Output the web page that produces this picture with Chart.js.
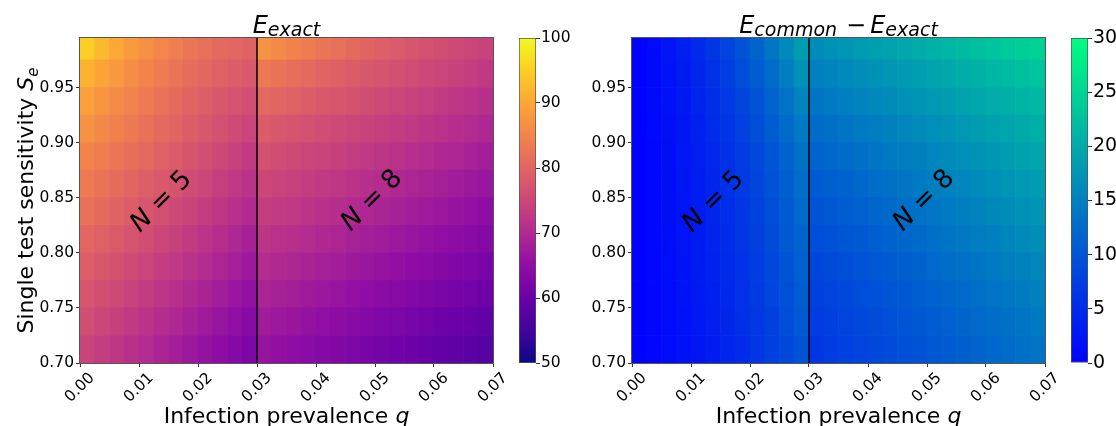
<!DOCTYPE html>
<html><head><meta charset="utf-8">
<script src="https://cdn.jsdelivr.net/npm/chart.js@4.4.1/dist/chart.umd.min.js"></script>
<style>
html,body{margin:0;padding:0;background:#fff;}
#wrap{position:relative;width:1116px;height:426px;overflow:hidden;background:#fff}
canvas{position:absolute;top:0}
</style></head>
<body><div id="wrap">
<canvas id="hmA" width="520" height="426" style="left:0px"></canvas>
<canvas id="cbA" width="100" height="426" style="left:500px"></canvas>
<canvas id="hmB" width="520" height="426" style="left:560px"></canvas>
<canvas id="cbB" width="56" height="426" style="left:1060px"></canvas>
</div>
<script>
// ---------------- data ----------------
const qEdges = [0.0000,0.0025,0.0050,0.0075,0.0100,0.0125,0.0150,0.0175,0.0200,0.0225,0.0250,0.0275,0.0300,
                0.0325,0.0350,0.0375,0.0400,0.0425,0.0450,0.0475,0.0500,0.0525,0.0550,0.0575,0.0600,0.0625,0.0650,0.0675,0.0700];
const seEdges = [0.700,0.725,0.750,0.775,0.800,0.825,0.850,0.875,0.900,0.925,0.950,0.975,0.995];
const qTicks = [0.00,0.01,0.02,0.03,0.04,0.05,0.06,0.07];
const seTicks = [0.70,0.75,0.80,0.85,0.90,0.95];
const boundaryQ = 0.03;
const exactTicks = [50,60,70,80,90,100];
const diffTicks = [0,5,10,15,20,25,30];
const exactLimits = [50,100];
const diffLimits = [0,30];
const poolLabels = ['5','8'];
const poolLabelQ = [0.0135,0.0492];
const poolLabelSe = [0.848,0.849];

// E_exact: rows Se=0.70 (bottom) .. 0.995 (top); 12 cells for N=5 (q<0.03) then 16 cells for N=8
const eExact = [
  [74.5,73.4,72.3,71.2,70.1,69.0,68.0,66.9,65.8,64.7,63.6,62.5, 66.0,65.4,64.9,64.3,63.7,63.2,62.6,62.0,61.5,60.9,60.3,59.8,59.2,58.6,58.1,57.5],
  [76.0,74.9,73.8,72.7,71.6,70.5,69.5,68.4,67.3,66.2,65.1,64.0, 67.5,66.9,66.4,65.8,65.2,64.7,64.1,63.5,63.0,62.4,61.8,61.3,60.7,60.1,59.6,59.0],
  [77.5,76.4,75.3,74.2,73.1,72.0,71.0,69.9,68.8,67.7,66.6,65.5, 69.0,68.4,67.9,67.3,66.7,66.2,65.6,65.0,64.5,63.9,63.3,62.8,62.2,61.6,61.1,60.5],
  [79.0,77.9,76.8,75.7,74.6,73.5,72.5,71.4,70.3,69.2,68.1,67.0, 70.5,69.9,69.4,68.8,68.2,67.7,67.1,66.5,66.0,65.4,64.8,64.3,63.7,63.1,62.6,62.0],
  [80.5,79.4,78.3,77.2,76.1,75.0,74.0,72.9,71.8,70.7,69.6,68.5, 72.0,71.4,70.9,70.3,69.7,69.2,68.6,68.0,67.5,66.9,66.3,65.8,65.2,64.6,64.1,63.5],
  [82.0,80.9,79.8,78.7,77.6,76.5,75.5,74.4,73.3,72.2,71.1,70.0, 73.5,72.9,72.4,71.8,71.2,70.7,70.1,69.5,69.0,68.4,67.8,67.3,66.7,66.1,65.6,65.0],
  [83.5,82.4,81.3,80.2,79.1,78.0,77.0,75.9,74.8,73.7,72.6,71.5, 75.0,74.4,73.9,73.3,72.7,72.2,71.6,71.0,70.5,69.9,69.3,68.8,68.2,67.6,67.1,66.5],
  [85.0,83.9,82.8,81.7,80.6,79.5,78.5,77.4,76.3,75.2,74.1,73.0, 76.7,76.1,75.5,74.9,74.4,73.8,73.2,72.6,72.1,71.5,70.9,70.3,69.7,69.2,68.6,68.0],
  [87.0,85.7,84.5,83.3,82.1,81.0,79.9,78.8,77.7,76.7,75.7,74.7, 78.5,77.9,77.3,76.7,76.1,75.5,74.9,74.3,73.7,73.1,72.5,71.9,71.3,70.7,70.1,69.5],
  [89.0,87.5,86.1,84.8,83.5,82.3,81.1,80.0,78.9,77.9,77.1,76.3, 80.7,80.1,79.4,78.8,78.1,77.5,76.8,76.2,75.5,74.9,74.2,73.6,72.9,72.3,71.6,71.0],
  [91.5,89.6,87.9,86.4,85.0,83.7,82.5,81.4,80.4,79.5,78.7,78.0, 83.3,82.4,81.6,80.8,80.0,79.3,78.6,77.9,77.2,76.5,75.9,75.2,74.6,74.0,73.3,72.7],
  [95.0,92.3,90.1,88.3,86.7,85.3,84.0,82.8,81.8,80.9,80.3,79.7, 87.0,85.8,84.7,83.7,82.7,81.8,80.9,80.0,79.2,78.4,77.6,76.9,76.2,75.5,74.9,74.3]
];
// E_common - E_exact, same grid
const eDiff = [
  [0.3,0.8,1.3,1.9,2.7,3.4,4.3,5.2,6.3,7.4,8.5,9.8,        6.5,7.0,7.4,7.9,8.4,8.8,9.3,9.8,10.2,10.7,11.2,11.6,12.1,12.6,13.0,13.5],
  [0.3,0.8,1.4,2.0,2.8,3.6,4.5,5.5,6.6,7.7,9.0,10.3,       7.0,7.5,8.0,8.4,8.9,9.4,9.9,10.4,10.8,11.3,11.8,12.3,12.8,13.2,13.7,14.2],
  [0.3,0.8,1.4,2.1,2.9,3.8,4.7,5.8,6.9,8.1,9.4,10.8,       7.5,8.0,8.5,9.0,9.5,10.0,10.5,11.0,11.5,12.0,12.5,13.0,13.5,14.0,14.5,15.0],
  [0.3,0.8,1.5,2.2,3.0,3.9,4.9,6.0,7.2,8.5,9.8,11.3,       8.2,8.7,9.2,9.7,10.2,10.7,11.2,11.7,12.3,12.8,13.3,13.8,14.3,14.8,15.3,15.8],
  [0.3,0.9,1.5,2.3,3.1,4.1,5.1,6.3,7.5,8.9,10.3,11.8,      9.0,9.5,10.0,10.5,11.0,11.5,12.0,12.5,13.1,13.6,14.1,14.6,15.1,15.6,16.1,16.6],
  [0.3,0.9,1.6,2.4,3.3,4.3,5.4,6.5,7.8,9.2,10.7,12.3,      9.8,10.3,10.8,11.3,11.9,12.4,12.9,13.4,13.9,14.4,14.9,15.4,16.0,16.5,17.0,17.5],
  [0.3,0.9,1.6,2.5,3.4,4.4,5.6,6.8,8.2,9.6,11.1,12.8,      10.7,11.2,11.7,12.2,12.8,13.3,13.8,14.3,14.8,15.3,15.8,16.3,16.9,17.4,17.9,18.4],
  [0.3,0.9,1.7,2.6,3.5,4.6,5.8,7.1,8.5,10.0,11.7,13.4,     11.6,12.1,12.6,13.2,13.7,14.2,14.7,15.2,15.8,16.3,16.8,17.3,17.8,18.4,18.9,19.4],
  [0.3,1.0,1.8,2.7,3.8,5.0,6.2,7.6,9.2,10.8,12.5,14.4,     12.6,13.1,13.7,14.2,14.7,15.2,15.8,16.3,16.8,17.3,17.9,18.4,18.9,19.4,20.0,20.5],
  [0.3,1.1,1.9,2.9,4.1,5.3,6.7,8.2,9.8,11.6,13.5,15.5,     13.8,14.3,14.9,15.4,15.9,16.4,17.0,17.5,18.0,18.5,19.1,19.6,20.1,20.6,21.2,21.7],
  [0.3,1.1,2.1,3.2,4.4,5.8,7.3,9.0,10.8,12.7,14.8,17.0,    15.0,15.5,16.1,16.6,17.1,17.7,18.2,18.7,19.3,19.8,20.3,20.9,21.4,21.9,22.5,23.0],
  [0.3,1.2,2.3,3.5,4.8,6.3,8.0,9.8,11.7,13.8,16.1,18.5,    16.5,17.0,17.6,18.1,18.7,19.2,19.8,20.3,20.9,21.4,22.0,22.5,23.1,23.6,24.2,24.7]
];

// ---------------- styling ----------------
const FONT = "'DejaVu Sans'";
Chart.defaults.font.family = FONT;
Chart.defaults.color = '#000';

const PLASMA = ['#0d0887','#41049d','#6a00a8','#8f0da4','#b12a90','#cc4778','#e16462','#f2844b','#fca636','#fcce25','#f0f921'];
function hex(h){return [1,3,5].map(i=>parseInt(h.substr(i,2),16));}
function clamp(t){return Math.min(1,Math.max(0,t));}
function plasma(t){
  t=clamp(t); const s=t*10; const i=Math.min(9,Math.floor(s)); const f=s-i;
  const a=hex(PLASMA[i]), b=hex(PLASMA[i+1]);
  return 'rgb('+a.map((v,k)=>Math.round(v+(b[k]-v)*f)).join(',')+')';
}
function winter(t){ t=clamp(t); return 'rgb(0,'+Math.round(255*t)+','+Math.round(255*(1-0.5*t))+')'; }

function runsWidth(ctx, runs){ let w=0; for(const r of runs){ if(r.gap){w+=r.gap;continue;} ctx.font=r.f; w+=ctx.measureText(r.t).width; } return w; }
function drawRuns(ctx, runs, x, y){
  let cx = x - runsWidth(ctx, runs)/2;
  for(const r of runs){ if(r.gap){cx+=r.gap;continue;} ctx.font=r.f; ctx.fillText(r.t, cx, y+(r.dy||0)); cx+=ctx.measureText(r.t).width; }
}
const xLabelRuns = [{t:'Infection prevalence ', f:'22px '+FONT},{t:'q', f:'italic 22px '+FONT}];
const yLabelRuns = [{t:'Single test sensitivity ', f:'22px '+FONT},{t:'S', f:'italic 22px '+FONT},{t:'e', f:'italic 15px '+FONT, dy:5}];
const titleA = [{t:'E', f:'italic 24px '+FONT},{t:'exact', f:'italic 19px '+FONT, dy:3.5}];
const titleB = [{t:'E', f:'italic 24px '+FONT},{t:'common', f:'italic 19px '+FONT, dy:3.5},{gap:9},{t:'\u2212', f:'24px '+FONT},{gap:4},
                {t:'E', f:'italic 24px '+FONT},{t:'exact', f:'italic 19px '+FONT, dy:3.5}];

function decoPlugin(cfg){
  return { id:'deco', afterDraw(chart){
    const ctx=chart.ctx, ca=chart.chartArea, xs=chart.scales.xq, ys=chart.scales.y;
    ctx.save();
    ctx.strokeStyle='#555'; ctx.lineWidth=1;
    ctx.strokeRect(Math.round(ca.left)-0.5, Math.round(ca.top)-0.5, Math.round(ca.right-ca.left)+1, Math.round(ca.bottom-ca.top)+1);
    ctx.fillStyle='#000'; ctx.textAlign='left'; ctx.textBaseline='alphabetic';
    const cx=(ca.left+ca.right)/2;
    drawRuns(ctx, cfg.title, cx, 32.5);
    drawRuns(ctx, xLabelRuns, cx, 423);
    if(cfg.yLabel){
      ctx.save(); ctx.translate(33,(ca.top+ca.bottom)/2); ctx.rotate(-Math.PI/2);
      drawRuns(ctx, yLabelRuns, 0, 0); ctx.restore();
    }
    poolLabels.forEach((n,i)=>{
      const px=xs.getPixelForValue(poolLabelQ[i]), py=ys.getPixelForValue(poolLabelSe[i]);
      ctx.save(); ctx.translate(px,py); ctx.rotate(-Math.PI/4);
      drawRuns(ctx, [{t:'N', f:'italic 26px '+FONT},{t:' = '+n, f:'26px '+FONT}], 0, 9.5);
      ctx.restore();
    });
    ctx.restore();
  }};
}

function heatmap(id, grid, cmap, title, yLabel, yAxisW, padRight){
  const labels = qEdges.slice(0,-1).map((q,i)=>((q+qEdges[i+1])/2).toFixed(5));
  const datasets = grid.map((row,r)=>({
    type:'bar', xAxisID:'xc', yAxisID:'y', order:1,
    data: row.map(()=>[seEdges[r], seEdges[r+1]]),
    backgroundColor: row.map(cmap),
    barPercentage:1, categoryPercentage:1, grouped:false, borderWidth:0
  }));
  datasets.push({type:'line', xAxisID:'xq', yAxisID:'y', order:0,
    data:[{x:boundaryQ,y:seEdges[0]},{x:boundaryQ,y:seEdges[seEdges.length-1]}],
    borderColor:'#000', borderWidth:1.5, pointRadius:0, fill:false});
  new Chart(document.getElementById(id), {
    type:'bar',
    data:{labels, datasets},
    options:{
      responsive:false, animation:false, events:[],
      layout:{padding:{left:0, right:padRight, top:38, bottom:0}},
      plugins:{legend:{display:false}, tooltip:{enabled:false}},
      scales:{
        xc:{type:'category', display:false, offset:true},
        xq:{type:'linear', position:'bottom', offset:false, min:qTicks[0], max:qTicks[qTicks.length-1],
          afterBuildTicks:s=>{s.ticks=qTicks.map(v=>({value:v}));},
          ticks:{minRotation:45, maxRotation:45, autoSkip:false, font:{size:15.5}, color:'#000', padding:2, labelOffset:12,
                 callback:v=>Number(v).toFixed(2)},
          grid:{display:true, offset:false, drawOnChartArea:false, drawTicks:true, tickLength:4, color:'#333'},
          border:{display:false},
          afterFit:s=>{s.height=63; s.paddingLeft=0; s.paddingRight=0;}},
        y:{type:'linear', position:'left', min:seEdges[0], max:seEdges[seEdges.length-1],
          afterBuildTicks:s=>{s.ticks=seTicks.map(v=>({value:v}));},
          ticks:{font:{size:15.5}, color:'#000', padding:2, callback:v=>Number(v).toFixed(2)},
          grid:{display:true, drawOnChartArea:false, drawTicks:true, tickLength:4, color:'#333'},
          border:{display:false},
          afterFit:s=>{s.width=yAxisW; s.paddingTop=0; s.paddingBottom=0;}}
      }
    },
    plugins:[decoPlugin({title, yLabel})]
  });
}

function colorbar(id, limits, ticks, cmap, padLeft, axisW, fontSize){
  new Chart(document.getElementById(id), {
    type:'bar',
    data:{labels:['cb'], datasets:[{
      data:[[limits[0],limits[1]]],
      backgroundColor:(c)=>{
        const ch=c.chart, y=ch.scales.y;
        if(!y || !ch.chartArea) return 'rgba(0,0,0,0)';
        const g=ch.ctx.createLinearGradient(0,y.getPixelForValue(limits[0]),0,y.getPixelForValue(limits[1]));
        for(let k=0;k<=20;k++) g.addColorStop(k/20, cmap(k/20));
        return g;
      },
      borderColor:'#555', borderWidth:1, borderSkipped:false, barPercentage:1, categoryPercentage:1
    }]},
    options:{
      responsive:false, animation:false, events:[],
      layout:{padding:{left:padLeft, top:38, bottom:63, right:0}},
      plugins:{legend:{display:false}, tooltip:{enabled:false}},
      scales:{
        x:{display:false},
        y:{position:'right', min:limits[0], max:limits[1],
          afterBuildTicks:s=>{s.ticks=ticks.map(v=>({value:v}));},
          ticks:{font:{size:fontSize}, color:'#000', padding:1},
          grid:{drawOnChartArea:false, drawTicks:true, tickLength:4, color:'#333'},
          border:{display:false},
          afterFit:s=>{s.width=axisW; s.paddingTop=0; s.paddingBottom=0;}}
      }
    }
  });
}

heatmap('hmA', eExact, v=>plasma((v-exactLimits[0])/(exactLimits[1]-exactLimits[0])), titleA, true, 80, 27);
colorbar('cbA', exactLimits, exactTicks, plasma, 19, 64, 15.5);
heatmap('hmB', eDiff, v=>winter((v-diffLimits[0])/(diffLimits[1]-diffLimits[0])), titleB, false, 72, 35);
colorbar('cbB', diffLimits, diffTicks, winter, 11, 28, 19);
</script></body></html>
